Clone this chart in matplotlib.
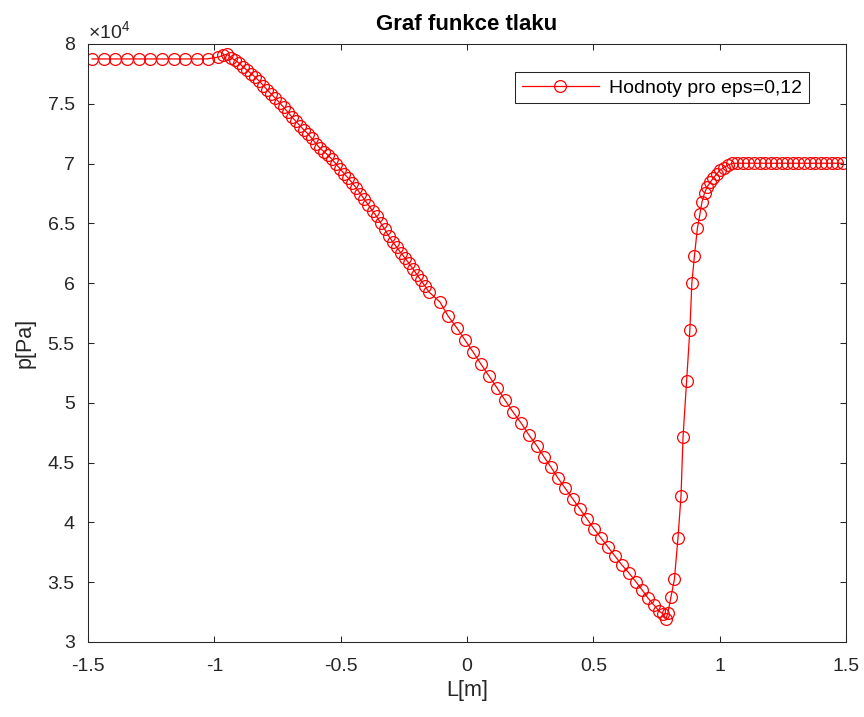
import matplotlib
matplotlib.use("Agg")
import matplotlib.pyplot as plt
from matplotlib.ticker import FuncFormatter, MultipleLocator

plt.rcParams["font.family"] = ["Liberation Sans", "DejaVu Sans"]
plt.rcParams["mathtext.fontset"] = "custom"
plt.rcParams["mathtext.rm"] = "Liberation Sans"
plt.rcParams["mathtext.it"] = "Liberation Sans"

# Values (x in m, pressure in Pa)
x_left = [-1.484, -1.438, -1.392, -1.346, -1.299, -1.253, -1.207, -1.161,
          -1.115, -1.070, -1.027, -0.985, -0.966, -0.950]
p_left = [78750, 78750, 78750, 78750, 78750, 78750, 78750, 78750,
          78750, 78750, 78760, 78900, 79050, 79160]

x_drop = [-0.934, -0.918, -0.902, -0.886, -0.870, -0.854, -0.838, -0.822,
          -0.806, -0.790, -0.774, -0.758, -0.742, -0.726, -0.710, -0.694,
          -0.678, -0.662, -0.646, -0.630, -0.614, -0.598, -0.582, -0.566,
          -0.550, -0.534, -0.518, -0.502, -0.486, -0.470, -0.454, -0.438,
          -0.422, -0.406, -0.390, -0.374, -0.358, -0.342, -0.326, -0.310,
          -0.294, -0.278, -0.262, -0.246, -0.230, -0.214, -0.198, -0.182,
          -0.166, -0.150]
p_drop = [78850, 78650, 78400, 78080, 77800, 77520, 77220, 76900,
          76520, 76150, 75800, 75450, 75100, 74720, 74320, 73920,
          73550, 73180, 72820, 72500, 72100, 71680, 71280, 71000,
          70700, 70350, 69950, 69550, 69150, 68780, 68380, 67950,
          67480, 67000, 66520, 66050, 65580, 65050, 64520, 63950,
          63450, 63000, 62550, 62120, 61680, 61200, 60720, 60250,
          59750, 59250]

x_slope = [-0.107, -0.075, -0.040, -0.008, 0.024, 0.055, 0.087, 0.119,
           0.150, 0.182, 0.214, 0.245, 0.277, 0.305, 0.332, 0.360,
           0.388, 0.419, 0.447, 0.475, 0.503, 0.530, 0.558, 0.586,
           0.613, 0.641, 0.669, 0.693, 0.716, 0.740, 0.760, 0.776,
           0.787]
p_slope = [58430, 57260, 56250, 55250, 54250, 53240, 52240, 51240,
           50230, 49230, 48310, 47310, 46390, 45470, 44630, 43710,
           42880, 41960, 41120, 40280, 39450, 38700, 37940, 37190,
           36440, 35770, 35020, 34350, 33680, 33090, 32590, 32340,
           31920]

x_rise = [0.795, 0.807, 0.821, 0.835, 0.847, 0.855, 0.869, 0.882,
          0.890, 0.900, 0.912, 0.922, 0.930, 0.940, 0.950, 0.962,
          0.975, 0.988, 1.001, 1.017, 1.033, 1.049]
p_rise = [32430, 33760, 35270, 38700, 42210, 47140, 51820, 56090,
          60020, 62270, 64620, 65790, 66790, 67540, 68040, 68420,
          68800, 69130, 69460, 69670, 69880, 70010]

x_right = [1.070, 1.092, 1.114, 1.136, 1.158, 1.180, 1.202, 1.224,
           1.246, 1.268, 1.290, 1.312, 1.334, 1.356, 1.378, 1.400,
           1.422, 1.444, 1.466, 1.489]
p_right = [70030] * 20

x_m = x_left + x_drop + x_slope + x_rise + x_right
p_pa = p_left + p_drop + p_slope + p_rise + p_right

axis_gray = "#262626"

fig = plt.figure(figsize=(8.64, 7.17), dpi=100)
ax = fig.add_axes([88 / 864, 1 - 642 / 717, 758 / 864, 598 / 717])

ax.plot(x_m, p_pa, color="#FF0000", linewidth=0.9, marker="o",
        markersize=8.5, markerfacecolor="none", markeredgewidth=0.9,
        label="Hodnoty pro eps=0,12")

ax.set_xlim(-1.5, 1.5)
ax.set_ylim(30000, 80000)
ax.xaxis.set_major_locator(MultipleLocator(0.5))
ax.yaxis.set_major_locator(MultipleLocator(5000))
ax.xaxis.set_major_formatter(FuncFormatter(lambda v, _: f"{v:g}".replace("\u2212", "-")))
ax.yaxis.set_major_formatter(FuncFormatter(lambda v, _: f"{v / 1e4:g}"))

ax.tick_params(direction="in", length=4, width=0.75, top=True, right=True,
               labelsize=14, colors=axis_gray)
ax.tick_params(axis="x", pad=11.5)
ax.tick_params(axis="y", pad=9.5)
for s in ax.spines.values():
    s.set_color(axis_gray)
    s.set_linewidth(0.75)

ax.text(0.0, 1.004, r"$\times10^{4}$", transform=ax.transAxes,
        ha="left", va="bottom", fontsize=14, color=axis_gray)

ax.set_xlabel("L[m]", fontsize=15.5, color=axis_gray, labelpad=3.5)
ax.set_ylabel("p[Pa]", fontsize=15.5, color=axis_gray, labelpad=8.5)
ax.set_title("Graf funkce tlaku", fontsize=16, fontweight="bold",
             color="black", pad=10)

leg = ax.legend(loc="upper right", bbox_to_anchor=(0.951, 0.953),
                borderaxespad=0, fontsize=14, fancybox=False,
                edgecolor=axis_gray, framealpha=1, handlelength=4,
                handletextpad=0.5, borderpad=0.35)
leg.get_frame().set_linewidth(0.75)

fig.savefig("out.png", dpi=100)
